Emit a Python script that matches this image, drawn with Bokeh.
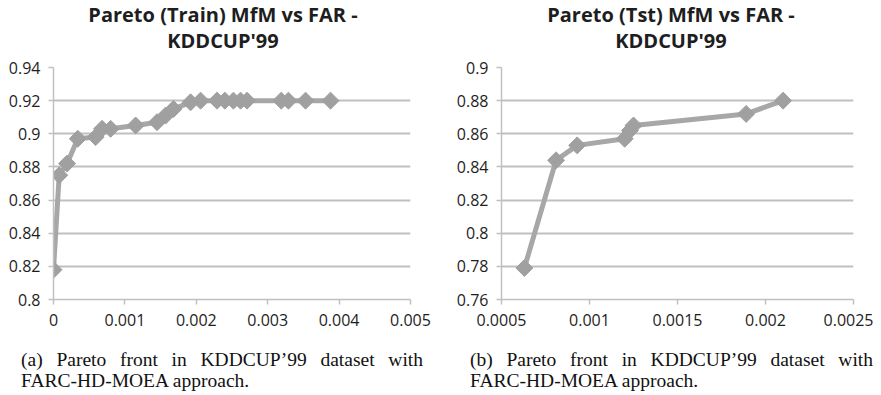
from bokeh.plotting import figure
from bokeh.models import Range1d, FixedTicker, Div
from bokeh.layouts import row, column
from bokeh.embed import file_html
from bokeh.resources import INLINE
import math

# ---- data ----
train_far = [0.0, 0.00008, 0.00019, 0.00034, 0.00059, 0.00068, 0.00080, 0.00115,
             0.00145, 0.00157, 0.00168, 0.00192, 0.00206, 0.00229, 0.00240, 0.00252,
             0.00262, 0.00271, 0.00319, 0.00329, 0.00353, 0.00388]
train_mfm = [0.818, 0.875, 0.882, 0.897, 0.898, 0.903, 0.903, 0.905,
             0.907, 0.911, 0.915, 0.919, 0.920, 0.920, 0.920, 0.920,
             0.920, 0.920, 0.920, 0.920, 0.920, 0.920]

test_far = [0.00063, 0.00081, 0.00093, 0.00120, 0.00123, 0.00125, 0.00189, 0.00210]
test_mfm = [0.779, 0.844, 0.853, 0.857, 0.862, 0.865, 0.872, 0.880]

train_xticks = [0.0, 0.001, 0.002, 0.003, 0.004, 0.005]
train_xlabels = ["0", "0.001", "0.002", "0.003", "0.004", "0.005"]
train_yticks = [0.80, 0.82, 0.84, 0.86, 0.88, 0.90, 0.92, 0.94]
train_ylabels = ["0.8", "0.82", "0.84", "0.86", "0.88", "0.9", "0.92", "0.94"]

test_xticks = [0.0005, 0.001, 0.0015, 0.002, 0.0025]
test_xlabels = ["0.0005", "0.001", "0.0015", "0.002", "0.0025"]
test_yticks = [0.76, 0.78, 0.80, 0.82, 0.84, 0.86, 0.88, 0.90]
test_ylabels = ["0.76", "0.78", "0.8", "0.82", "0.84", "0.86", "0.88", "0.9"]

train_title = ["Pareto (Train) MfM vs FAR -", "KDDCUP'99"]
test_title = ["Pareto (Tst) MfM vs FAR -", "KDDCUP'99"]
train_caption = "(a) Pareto front in KDDCUP\u201999 dataset with FARC-HD-MOEA approach."
test_caption = "(b) Pareto front in KDDCUP\u201999 dataset with FARC-HD-MOEA approach."

LINE_C = "#a7a7a7"
MARK_C = "#a0a0a0"
GRID_C = "#c0c0c0"
TEXT_C = "#1e1e1e"


def make_fig(xs, ys, xticks, xlabels, yticks, ylabels, left, fw, right):
    p = figure(width=left + fw + right, height=286,
               frame_width=fw, frame_height=232,
               min_border_left=left, min_border_right=right,
               min_border_top=13, min_border_bottom=41,
               x_range=Range1d(xticks[0], xticks[-1]),
               y_range=Range1d(yticks[0], yticks[-1]),
               output_backend="svg", toolbar_location=None,
               background_fill_color="white", border_fill_color="white")
    p.outline_line_color = None
    p.xgrid.grid_line_color = None
    p.ygrid.grid_line_color = GRID_C
    p.ygrid.grid_line_width = 2
    p.xaxis.ticker = FixedTicker(ticks=xticks)
    p.yaxis.ticker = FixedTicker(ticks=yticks)
    p.xaxis.major_label_overrides = {t: l for t, l in zip(xticks, xlabels)}
    p.yaxis.major_label_overrides = {t: l for t, l in zip(yticks, ylabels)}
    for ax in (p.xaxis[0], p.yaxis[0]):
        ax.axis_line_color = GRID_C
        ax.axis_line_width = 1.5
        ax.major_tick_line_color = GRID_C
        ax.major_tick_line_width = 1.5
        ax.major_tick_in = 0
        ax.major_tick_out = 5
        ax.minor_tick_line_color = None
        ax.major_label_text_font = "Open Sans"
        ax.major_label_text_font_size = "16px"
        ax.major_label_text_color = TEXT_C
    p.xaxis.major_label_standoff = 9
    p.yaxis.major_label_standoff = 8
    p.line(xs, ys, line_color=LINE_C, line_width=5)
    p.scatter(xs, ys, marker="square", angle=math.pi / 4, size=12,
              fill_color=MARK_C, line_color=MARK_C, line_width=1)
    return p


def make_title(lines, ml, w):
    return Div(text="<br>".join(lines), width=w, height=52, margin=(2, 0, 0, ml),
               styles={"font-family": "'Open Sans', sans-serif", "font-weight": "bold",
                       "font-size": "20px", "line-height": "26px",
                       "text-align": "center", "color": TEXT_C})


def make_caption(text, ml, w):
    return Div(text=text, width=w, margin=(9, 0, 0, ml),
               styles={"font-family": "'Liberation Serif', 'Times New Roman', serif",
                       "font-size": "19.5px", "line-height": "21px",
                       "text-align": "justify", "color": "#111111"})


p1 = make_fig(train_far, train_mfm, train_xticks, train_xlabels, train_yticks,
              train_ylabels, 53, 357, 30)
p2 = make_fig(test_far, test_mfm, test_xticks, test_xlabels, test_yticks,
              test_ylabels, 61, 352, 20)

c1 = column(make_title(train_title, 8, 430), p1,
            make_caption(train_caption, 21, 402), spacing=0)
c2 = column(make_title(test_title, 30, 402), p2,
            make_caption(test_caption, 30, 403), spacing=0)
layout = row(c1, c2, spacing=0)

open("out.html", "w").write(file_html(layout, INLINE))
